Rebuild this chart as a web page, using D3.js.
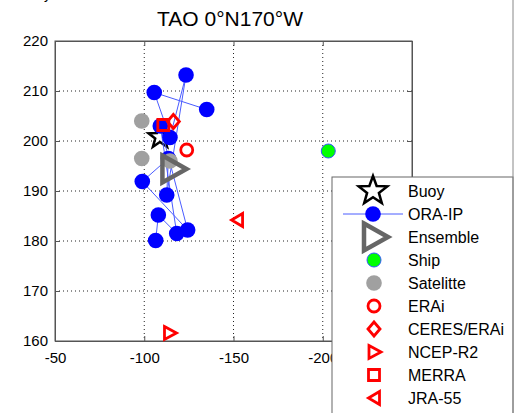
<!DOCTYPE html>
<html><head><meta charset="utf-8">
<script src="https://cdn.jsdelivr.net/npm/d3@7"></script>
<style>
html,body{margin:0;padding:0;background:#fff;}
svg{display:block;font-family:"Liberation Sans",Arial,Helvetica,sans-serif;}
</style></head>
<body>
<svg id="c" width="514" height="413"></svg>
<script>
// ---- data ----
const xTicks = [-50, -100, -150, -200, -250];
const xTickLabels = [-50, -100, -150, -200];
const yTicks = [160, 170, 180, 190, 200, 210, 220];
const titleText = "TAO 0°N170°W";

const buoyX = [-108.8], buoyY = [200.8];
const oraX = [-135.0, -105.6, -114.4, -123.4, -112.6, -113.5, -98.9, -124.3, -109.0, -118.2, -107.9, -106.4];
const oraY = [206.3, 209.7, 200.7, 213.2, 189.2, 196.5, 191.9, 182.2, 203.0, 181.5, 185.2, 180.1];
const ensX = [-116.9], ensY = [194.4];
const shipX = [-203.1], shipY = [198.0];
const satX = [-98.6, -98.6, -114.4], satY = [204.0, 196.5, 196.0];
const eraiX = [-123.8], eraiY = [198.2];
const ceresX = [-116.3], ceresY = [203.9];
const ncepX = [-114.7], ncepY = [161.6];
const merraX = [-110.7], merraY = [203.2];
const jraX = [-152.0], jraY = [184.2];
const legendLabels = ["Buoy","ORA-IP","Ensemble","Ship","Satelitte","ERAi","CERES/ERAi","NCEP-R2","MERRA","JRA-55"];

// ---- layout ----
const svg = d3.select("#c");
const L = 55, R = 412, T = 41, B = 341;
const x = d3.scaleLinear().domain([-50, -250]).range([L, R]);
const y = d3.scaleLinear().domain([160, 220]).range([B, T]);

const pts = (xs, ys) => xs.map((v, i) => [x(v), y(ys[i])]);

// marker path generators
function starPath(cx, cy, ro, ri) {
  const p = [];
  for (let k = 0; k < 10; k++) {
    const a = -Math.PI / 2 + k * Math.PI / 5;
    const r = k % 2 === 0 ? ro : ri;
    p.push([cx + r * Math.cos(a), cy + r * Math.sin(a)]);
  }
  return "M" + p.map(q => q.join(",")).join("L") + "Z";
}
function triRight(cx, cy, w, h) {
  return `M${cx - w/2},${cy - h/2}L${cx + w/2},${cy}L${cx - w/2},${cy + h/2}Z`;
}
function triLeft(cx, cy, w, h) {
  return `M${cx + w/2},${cy - h/2}L${cx - w/2},${cy}L${cx + w/2},${cy + h/2}Z`;
}
function diamond(cx, cy, w, h) {
  return `M${cx},${cy - h/2}L${cx + w/2},${cy}L${cx},${cy + h/2}L${cx - w/2},${cy}Z`;
}
function square(cx, cy, s) {
  return `M${cx - s/2},${cy - s/2}h${s}v${s}h${-s}Z`;
}

// cut-off label remnant top-left
svg.append("text").attr("x", 44).attr("y", -1).attr("font-size", 14).attr("fill", "#000").text("y");

// title
svg.append("text").attr("x", 230).attr("y", 26).attr("text-anchor", "middle")
  .attr("font-size", 21).attr("fill", "#000").text(titleText);

// grid
const g = svg.append("g");
g.selectAll(".gx").data(xTicks.slice(1, -1)).join("line")
  .attr("x1", d => x(d)).attr("x2", d => x(d)).attr("y1", T).attr("y2", B)
  .attr("stroke", "#222").attr("stroke-width", 1).attr("stroke-dasharray", "1,3");
g.selectAll(".gy").data(yTicks.slice(1, -1)).join("line")
  .attr("y1", d => y(d)).attr("y2", d => y(d)).attr("x1", L).attr("x2", R)
  .attr("stroke", "#222").attr("stroke-width", 1).attr("stroke-dasharray", "1,3");

// axes box
g.append("rect").attr("x", L).attr("y", T).attr("width", R - L).attr("height", B - T)
  .attr("fill", "none").attr("stroke", "#555").attr("stroke-width", 1);

// axes with inward ticks
const fmt = d => String(d);
const xAxis = d3.axisBottom(x).tickValues(xTickLabels).tickSize(-5).tickPadding(9).tickFormat(fmt);
const xa = svg.append("g").attr("transform", `translate(0,${B})`).call(xAxis);
const xTop = svg.append("g").attr("transform", `translate(0,${T})`).call(d3.axisTop(x).tickValues(xTicks).tickSize(-5).tickFormat(""));
const yAxis = d3.axisLeft(y).tickValues(yTicks).tickSize(-5).tickPadding(7).tickFormat(fmt);
const ya = svg.append("g").attr("transform", `translate(${L},0)`).call(yAxis);
const yRight = svg.append("g").attr("transform", `translate(${R},0)`).call(d3.axisRight(y).tickValues(yTicks).tickSize(-5).tickFormat(""));
[xa, xTop, ya, yRight].forEach(a => {
  a.select(".domain").attr("stroke", "#555");
  a.selectAll(".tick line").attr("stroke", "#555");
  a.selectAll("text").attr("font-size", 15).attr("fill", "#000")
    .attr("font-family", "Liberation Sans, Arial, sans-serif");
});
xa.selectAll("text").attr("dy", "0.85em");

// ---- marks ----
const m = svg.append("g");
// Buoy star
pts(buoyX, buoyY).forEach(([cx, cy]) =>
  m.append("path").attr("d", starPath(cx, cy, 12, 5)).attr("fill", "none")
    .attr("stroke", "#000").attr("stroke-width", 2.5).attr("stroke-linejoin", "miter"));
// ORA-IP
const oraPts = pts(oraX, oraY);
m.append("path").attr("d", d3.line()(oraPts)).attr("fill", "none")
  .attr("stroke", "#4a5cff").attr("stroke-width", 1);
m.selectAll(".ora").data(oraPts).join("circle").attr("cx", d => d[0]).attr("cy", d => d[1])
  .attr("r", 7.8).attr("fill", "#0000ff");
// Satellite
m.selectAll(".sat").data(pts(satX, satY)).join("circle").attr("cx", d => d[0]).attr("cy", d => d[1])
  .attr("r", 7.8).attr("fill", "#a0a0a0");
// Ensemble
pts(ensX, ensY).forEach(([cx, cy]) =>
  m.append("path").attr("d", triRight(cx, cy, 24, 27)).attr("fill", "none")
    .attr("stroke", "#666").attr("stroke-width", 4.5).attr("stroke-linejoin", "miter"));
// Ship
pts(shipX, shipY).forEach(([cx, cy]) =>
  m.append("circle").attr("cx", cx).attr("cy", cy).attr("r", 7)
    .attr("fill", "#00ff00").attr("stroke", "#3355ff").attr("stroke-width", 1));
// Reds
const red = "#ff0000";
pts(eraiX, eraiY).forEach(([cx, cy]) =>
  m.append("circle").attr("cx", cx).attr("cy", cy).attr("r", 6).attr("fill", "none").attr("stroke", red).attr("stroke-width", 2.8));
pts(ceresX, ceresY).forEach(([cx, cy]) =>
  m.append("path").attr("d", diamond(cx, cy, 12, 14)).attr("fill", "none").attr("stroke", red).attr("stroke-width", 2.8));
pts(ncepX, ncepY).forEach(([cx, cy]) =>
  m.append("path").attr("d", triRight(cx, cy, 12, 13)).attr("fill", "none").attr("stroke", red).attr("stroke-width", 2.8));
pts(merraX, merraY).forEach(([cx, cy]) =>
  m.append("path").attr("d", square(cx, cy, 11)).attr("fill", "none").attr("stroke", red).attr("stroke-width", 2.8));
pts(jraX, jraY).forEach(([cx, cy]) =>
  m.append("path").attr("d", triLeft(cx, cy, 11, 13)).attr("fill", "none").attr("stroke", red).attr("stroke-width", 2.8));

// ---- legend ----
const lg = svg.append("g");
lg.append("rect").attr("x", 332).attr("y", 177).attr("width", 181).attr("height", 260)
  .attr("fill", "#fff").attr("stroke", "#666").attr("stroke-width", 1);
const ly = d3.scalePoint().domain(legendLabels).range([191, 398]);
const sx = 373, tx = 408;
lg.selectAll(".lt").data(legendLabels).join("text").attr("x", tx).attr("y", d => ly(d))
  .attr("dy", "0.36em").attr("font-size", 16).attr("fill", "#000").text(d => d);
const sym = {
  "Buoy": (gg, c) => gg.append("path").attr("d", starPath(sx, c, 15, 6.2)).attr("fill", "none").attr("stroke", "#000").attr("stroke-width", 2.5),
  "ORA-IP": (gg, c) => { gg.append("line").attr("x1", 343).attr("x2", 403).attr("y1", c).attr("y2", c).attr("stroke", "#4a5cff").attr("stroke-width", 1);
    gg.append("circle").attr("cx", sx).attr("cy", c).attr("r", 7.8).attr("fill", "#0000ff"); },
  "Ensemble": (gg, c) => gg.append("path").attr("d", triRight(sx + 3, c, 24, 27)).attr("fill", "none").attr("stroke", "#666").attr("stroke-width", 4.5),
  "Ship": (gg, c) => gg.append("circle").attr("cx", sx + 1).attr("cy", c).attr("r", 7).attr("fill", "#00ff00").attr("stroke", "#3355ff").attr("stroke-width", 1),
  "Satelitte": (gg, c) => gg.append("circle").attr("cx", sx + 1).attr("cy", c).attr("r", 7.8).attr("fill", "#a0a0a0"),
  "ERAi": (gg, c) => gg.append("circle").attr("cx", sx + 1).attr("cy", c).attr("r", 6).attr("fill", "none").attr("stroke", red).attr("stroke-width", 2.8),
  "CERES/ERAi": (gg, c) => gg.append("path").attr("d", diamond(sx + 1, c, 12, 14)).attr("fill", "none").attr("stroke", red).attr("stroke-width", 2.8),
  "NCEP-R2": (gg, c) => gg.append("path").attr("d", triRight(sx + 2, c, 12, 13)).attr("fill", "none").attr("stroke", red).attr("stroke-width", 2.8),
  "MERRA": (gg, c) => gg.append("path").attr("d", square(sx + 1, c, 11)).attr("fill", "none").attr("stroke", red).attr("stroke-width", 2.8),
  "JRA-55": (gg, c) => gg.append("path").attr("d", triLeft(sx + 1, c, 11, 13)).attr("fill", "none").attr("stroke", red).attr("stroke-width", 2.8)
};
legendLabels.forEach(l => sym[l](lg, ly(l)));

// right frame line
svg.append("line").attr("x1", 513).attr("x2", 513).attr("y1", 0).attr("y2", 413).attr("stroke", "#888").attr("stroke-width", 1);
</script>
</body></html>
